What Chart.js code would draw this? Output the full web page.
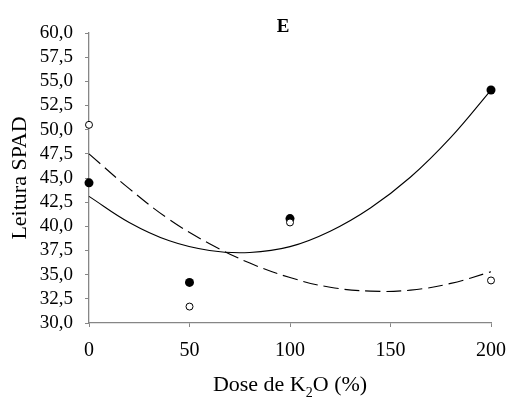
<!DOCTYPE html>
<html>
<head>
<meta charset="utf-8">
<script src="https://cdn.jsdelivr.net/npm/chart.js@4/dist/chart.umd.min.js"></script>
<style>
  html, body { margin: 0; padding: 0; background: #fff; }
  #wrap { width: 510px; height: 399px; position: relative; }
</style>
</head>
<body>
<div id="wrap"><canvas id="chart"></canvas></div>
<script>
// observed points
const doses = [0, 50, 100, 200];
const filledSpad = [44.5, 34.2, 40.8, 54.1];
const openSpad = [50.5, 31.7, 40.4, 34.4];

// fitted curves
const curveDoses = [0, 20, 40, 60, 80, 100, 120, 140, 160, 180, 200];
const solidCurve = [43.1, 40.4, 38.5, 37.5, 37.3, 37.9, 39.5, 41.9, 45.1, 49.2, 54.1];
const dashedCurve = [47.5, 43.9, 40.7, 38.2, 36.2, 34.7, 33.7, 33.3, 33.4, 34.1, 35.3];

const xTicks = [0, 50, 100, 150, 200];
const yTicks = [30, 32.5, 35, 37.5, 40, 42.5, 45, 47.5, 50, 52.5, 55, 57.5, 60];

const serif = '"Liberation Serif", "Times New Roman", serif';
const axisGrey = '#868686';

const toXY = (xs, ys) => xs.map((x, i) => ({ x: x, y: ys[i] }));

// panel letter and axis titles (x title needs a subscript)
const labelsPlugin = {
  id: 'labels',
  afterDraw(chart) {
    const ctx = chart.ctx;
    const area = chart.chartArea;
    ctx.save();
    ctx.fillStyle = '#000';
    ctx.textBaseline = 'alphabetic';

    ctx.font = 'bold 19px ' + serif;
    ctx.textAlign = 'center';
    ctx.fillText('E', 283, 32);

    // x title: Dose de K2O (%)
    ctx.font = '22px ' + serif;
    const a = 'Dose de K', b = 'O (%)';
    ctx.textAlign = 'left';
    const wa = ctx.measureText(a).width;
    const wb = ctx.measureText(b).width;
    ctx.font = '14px ' + serif;
    const ws = ctx.measureText('2').width;
    let x = (area.left + area.right) / 2 - (wa + ws + wb) / 2;
    ctx.font = '22px ' + serif;
    ctx.fillText(a, x, 391);
    x += wa;
    ctx.font = '14px ' + serif;
    ctx.fillText('2', x, 397);
    x += ws;
    ctx.font = '22px ' + serif;
    ctx.fillText(b, x, 391);

    // y title
    ctx.translate(26, (area.top + area.bottom) / 2);
    ctx.rotate(-Math.PI / 2);
    ctx.textAlign = 'center';
    ctx.fillText('Leitura SPAD', 0, 0);
    ctx.restore();
  }
};

new Chart(document.getElementById('chart'), {
  type: 'scatter',
  data: {
    datasets: [
      {
        label: 'open',
        data: toXY(doses, openSpad),
        pointRadius: 3.5,
        pointBackgroundColor: '#fff',
        pointBorderColor: '#000',
        pointBorderWidth: 1,
        clip: false
      },
      {
        label: 'filled',
        data: toXY(doses, filledSpad),
        pointRadius: 4.5,
        pointBackgroundColor: '#000',
        pointBorderColor: '#000',
        pointBorderWidth: 0,
        clip: false
      },
      {
        label: 'solid fit',
        data: toXY(curveDoses, solidCurve),
        showLine: true,
        pointRadius: 0,
        borderColor: '#000',
        borderWidth: 1.1,
        tension: 0.4,
        clip: false
      },
      {
        label: 'dashed fit',
        data: toXY(curveDoses, dashedCurve),
        showLine: true,
        pointRadius: 0,
        borderColor: '#000',
        borderWidth: 1.1,
        borderDash: [15, 6],
        tension: 0.4,
        clip: false
      }
    ]
  },
  options: {
    responsive: true,
    maintainAspectRatio: false,
    animation: false,
    events: [],
    layout: { padding: { top: 33, right: 19, left: 0, bottom: 0 } },
    plugins: {
      legend: { display: false },
      tooltip: { enabled: false },
      title: { display: false }
    },
    scales: {
      x: {
        type: 'linear',
        min: 0,
        max: 200,
        afterFit: (s) => { s.height = 76; s.paddingLeft = 0; s.paddingRight = 0; },
        afterBuildTicks: (s) => { s.ticks = xTicks.map(v => ({ value: v })); },
        ticks: {
          color: '#000',
          font: { family: serif, size: 20 },
          padding: 12,
          maxRotation: 0,
          autoSkip: false
        },
        grid: { display: true, drawOnChartArea: false, drawTicks: true, tickLength: 4, color: axisGrey },
        border: { display: true, color: axisGrey, width: 1.3 }
      },
      y: {
        type: 'linear',
        min: 30,
        max: 60,
        afterFit: (s) => { s.width = 89; s.paddingTop = 0; s.paddingBottom = 0; },
        afterBuildTicks: (s) => { s.ticks = yTicks.map(v => ({ value: v })); },
        ticks: {
          color: '#000',
          font: { family: serif, size: 19 },
          padding: 12,
          autoSkip: false,
          callback: (v) => v.toFixed(1).replace('.', ',')
        },
        grid: { display: true, drawOnChartArea: false, drawTicks: true, tickLength: 4, color: axisGrey },
        border: { display: true, color: axisGrey, width: 1.3 }
      }
    }
  },
  plugins: [labelsPlugin]
});
</script>
</body>
</html>
